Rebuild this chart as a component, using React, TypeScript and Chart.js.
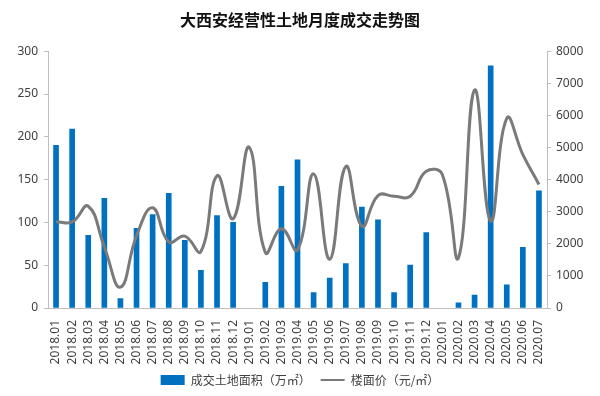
import React, { useEffect, useRef } from "react";
import { Chart, registerables } from "chart.js";

Chart.register(...registerables);

const categories = [
  "2018.01","2018.02","2018.03","2018.04","2018.05","2018.06","2018.07","2018.08","2018.09","2018.10","2018.11","2018.12",
  "2019.01","2019.02","2019.03","2019.04","2019.05","2019.06","2019.07","2019.08","2019.09","2019.10","2019.11","2019.12",
  "2020.01","2020.02","2020.03","2020.04","2020.05","2020.06","2020.07",
];

const landArea: (number | null)[] = [
  190, 209, 85, 128, 11, 93, 109, 134, 79, 44, 108, 100,
  null, 30, 142, 173, 18, 35, 52, 118, 103, 18, 50, 88,
  null, 6, 15, 283, 27, 71, 137,
];

const floorPrice = [
  2690, 2680, 3170, 1900, 650, 2250, 3120, 2060, 2240, 1760, 4120, 2780,
  5010, 1730, 2470, 1810, 4180, 1520, 4410, 2550, 3500, 3480, 3480, 4260,
  4150, 1570, 6790, 2710, 5910, 4780, 3850,
];

const leftTicks = [0, 50, 100, 150, 200, 250, 300];
const rightTicks = [0, 1000, 2000, 3000, 4000, 5000, 6000, 7000, 8000];

const titleText = "大西安经营性土地月度成交走势图";
const areaLabel = "成交土地面积（万㎡）";
const priceLabel = "楼面价（元/㎡）";

const FONT = "'Noto Sans', 'Noto Sans CJK SC', sans-serif";
const CJK = "'Noto Sans CJK SC', sans-serif";

export default function App() {
  const ref = useRef<HTMLCanvasElement | null>(null);

  useEffect(() => {
    document.body.style.margin = "0";
    const canvas = ref.current;
    if (!canvas) return;
    const chart = new Chart(canvas, {
      type: "bar",
      data: {
        labels: categories,
        datasets: [
          {
            type: "bar",
            label: areaLabel,
            data: landArea,
            backgroundColor: "#0070C0",
            barThickness: 5,
            yAxisID: "y",
            order: 1,
          },
          {
            type: "line",
            label: priceLabel,
            data: floorPrice,
            borderColor: "#7A7A7A",
            backgroundColor: "#7A7A7A",
            borderWidth: 3,
            tension: 0.45,
            pointRadius: 0,
            yAxisID: "y1",
            order: 0,
          } as any,
        ],
      },
      options: {
        responsive: false,
        animation: false,
        layout: { padding: { left: 0, right: 0, top: 0, bottom: 0 } },
        plugins: {
          title: {
            display: true,
            text: titleText,
            color: "#111",
            font: { family: CJK, size: 16, weight: "bold" },
            padding: { top: 10, bottom: 22 },
          },
          legend: {
            position: "bottom",
            labels: {
              color: "#404040",
              font: { family: CJK, size: 12 },
              usePointStyle: true,
              boxHeight: 10,
              pointStyleWidth: 24,
              padding: 10,
              generateLabels: (c: any) => {
                const items = Chart.defaults.plugins.legend.labels.generateLabels(c);
                items.sort((a: any, b: any) => a.datasetIndex - b.datasetIndex);
                items.forEach((it: any) => {
                  if (it.datasetIndex === 0) {
                    it.pointStyle = "rect";
                    it.lineWidth = 0;
                    it.fillStyle = "#0070C0";
                    it.strokeStyle = "#0070C0";
                  } else {
                    it.pointStyle = "line";
                    it.lineWidth = 2;
                    it.strokeStyle = "#7A7A7A";
                  }
                });
                return items;
              },
            },
          },
          tooltip: { enabled: false },
        },
        scales: {
          x: {
            grid: { display: false },
            border: { display: true, color: "#BFBFBF", width: 1 },
            ticks: {
              color: "#404040",
              font: { family: FONT, size: 12 },
              minRotation: 90,
              maxRotation: 90,
              autoSkip: false,
              padding: 4,
            },
            afterFit: (s: any) => {
              s.height = 56;
            },
          },
          y: {
            position: "left",
            min: 0,
            max: 300,
            afterBuildTicks: (s: any) => {
              s.ticks = leftTicks.map((v) => ({ value: v }));
            },
            grid: { drawOnChartArea: false, drawTicks: true, tickLength: 4, color: "#BFBFBF" },
            border: { display: true, color: "#BFBFBF", width: 1 },
            ticks: {
              color: "#404040",
              font: { family: FONT, size: 12 },
              padding: 6,
              callback: (v: any) => String(v),
            },
            afterFit: (s: any) => {
              s.width = 48;
            },
          },
          y1: {
            position: "right",
            min: 0,
            max: 8000,
            afterBuildTicks: (s: any) => {
              s.ticks = rightTicks.map((v) => ({ value: v }));
            },
            grid: { drawOnChartArea: false, drawTicks: true, tickLength: 4, color: "#BFBFBF" },
            border: { display: true, color: "#BFBFBF", width: 1 },
            ticks: {
              color: "#404040",
              font: { family: FONT, size: 12 },
              padding: 5,
              callback: (v: any) => String(v),
            },
            afterFit: (s: any) => {
              s.width = 53;
            },
          },
        },
      } as any,
    });
    return () => chart.destroy();
  }, []);

  return (
    <div style={{ width: 600, height: 396, background: "#fff" }}>
      <canvas ref={ref} width={600} height={396} />
    </div>
  );
}
